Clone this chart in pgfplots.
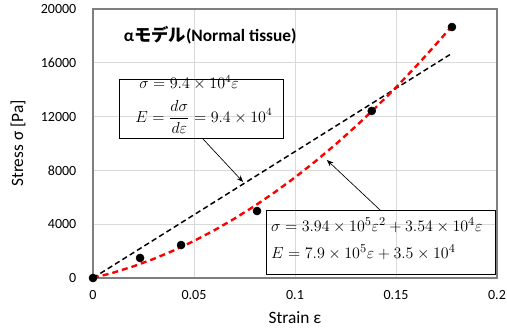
\documentclass[border=0pt]{standalone}
\usepackage{pgfplots}
\pgfplotsset{compat=1.18}
\usepackage{fontspec}
\setmainfont{Carlito}
\newfontfamily\cjk{Noto Sans CJK JP}
\usetikzlibrary{arrows.meta}
\definecolor{gridgray}{HTML}{D9D9D9}
\definecolor{boxgray}{HTML}{7F7F7F}
\begin{document}
\begin{tikzpicture}
\useasboundingbox (-69.75pt,-37.5pt) rectangle (310.5pt,208.5pt);
\begin{axis}[
  at={(0,0)}, anchor=south west,
  scale only axis, width=303pt, height=201.75pt,
  xmin=0, xmax=0.2, ymin=0, ymax=20000,
  xtick={0,0.05,0.1,0.15,0.2},
  ytick={0,4000,8000,12000,16000,20000},
  xticklabels={0,0.05,0.1,0.15,0.2},
  yticklabels={0,4000,8000,12000,16000,20000},
  scaled y ticks=false,
  /pgf/number format/assume math mode=true,
  /pgf/number format/1000 sep={},
  major tick length=0pt,
  grid=major,
  grid style={gridgray, line width=0.6pt},
  axis line style={boxgray, line width=0.9pt},
  tick label style={font=\fontsize{10.5}{12}\selectfont, black},
  xticklabel style={yshift=-6pt},
  yticklabel style={xshift=-9pt},
  xlabel={Strain ε},
  ylabel={Stress σ [Pa]},
  label style={font=\fontsize{13}{15}\selectfont},
  xlabel style={at={(axis description cs:0.5,-0.1487)}, anchor=center},
  ylabel style={at={(axis description cs:-0.1856,0.5)}, anchor=center},
  clip=false,
]
% linear fit
\addplot[black, line width=1.1pt, dash pattern=on 4pt off 2.5pt] coordinates {(0,0) (0.1767,16610)};
% quadratic fit
\addplot[red, line width=1.8pt, dash pattern=on 4.5pt off 3pt] coordinates {
(0,0) (0.01,393) (0.02,866) (0.03,1417) (0.04,2046) (0.05,2755) (0.06,3542)
(0.07,4409) (0.08,5354) (0.09,6377) (0.10,7480) (0.11,8661) (0.12,9922)
(0.13,11261) (0.14,12678) (0.15,14175) (0.16,15750) (0.17,17405) (0.177,18610)};
% data
\addplot[only marks, mark=*, mark size=3pt, black] coordinates {
(0,0) (0.0233,1490) (0.0436,2450) (0.0812,4980) (0.138,12420) (0.1777,18660)};

\node[anchor=west, font=\fontsize{13}{15}\selectfont\bfseries] at (axis cs:0.0129,18067) {α{\cjk\bfseries モデル}(Normal tissue)};

\draw[black, line width=0.7pt] (axis cs:0.01287,14796) rectangle (axis cs:0.0941,10409);
\draw[black, line width=0.7pt] (axis cs:0.0861,5056) rectangle (axis cs:0.199,297);
\node[anchor=west, inner sep=0pt, font=\fontsize{12}{14}\selectfont] at (axis cs:0.0228,14498) {$\sigma = 9.4\times10^{4}\varepsilon$};
\node[anchor=west, inner sep=0pt, font=\fontsize{12}{14}\selectfont] at (axis cs:0.0208,11970) {$\displaystyle E=\frac{d\sigma}{d\varepsilon}=9.4\times10^{4}$};
\node[anchor=west, inner sep=0pt, font=\fontsize{12.3}{14}\selectfont] at (axis cs:0.0881,3941) {$\sigma = 3.94\times10^{5}\varepsilon^{2}+3.54\times10^{4}\varepsilon$};
\node[anchor=west, inner sep=0pt, font=\fontsize{12.3}{14}\selectfont] at (axis cs:0.0881,1933) {$E = 7.9\times10^{5}\varepsilon+3.5\times10^{4}$};

\draw[black, line width=0.5pt, -{Stealth[length=5pt,width=4pt]}] (axis cs:0.0540,10409) -- (axis cs:0.0743,7138);
\draw[black, line width=0.5pt, -{Stealth[length=5pt,width=4pt]}] (axis cs:0.1421,5056) -- (axis cs:0.1158,8773);
\end{axis}
\end{tikzpicture}
\end{document}
